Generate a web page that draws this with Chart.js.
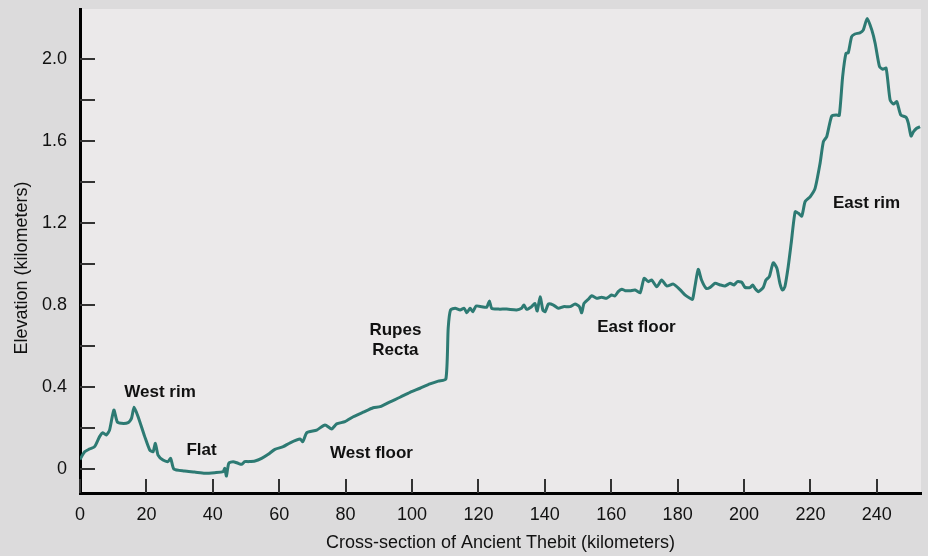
<!DOCTYPE html>
<html>
<head>
<meta charset="utf-8">
<script src="https://cdn.jsdelivr.net/npm/chart.js@4.4.1/dist/chart.umd.min.js"></script>
<style>
  html, body { margin: 0; padding: 0; background: #dcdbdc; }
  canvas { display: block; }
</style>
</head>
<body>
<canvas id="profile" width="928" height="556"></canvas>
<script>
// profile across the crater
var distanceKm = [0, 1.4, 2.9, 4.4, 5.9, 6.9, 7.9, 8.9, 10.2, 11.2, 12.4, 14.5, 15.5, 16.3, 17.5, 19.5,
  21.0, 22.0, 22.7, 23.5, 25.0, 26.5, 27.3, 28.3, 31.5, 34.5, 37.6, 40.6, 43.1, 43.6, 44.1, 44.8,
  46.1, 47.6, 48.7, 49.6, 50.7, 52.7, 54.7, 56.7, 58.7, 61.2, 63.3, 66.3, 67.1, 68.3, 71.3, 73.8,
  75.8, 77.3, 79.8, 82.3, 85.3, 88.3, 90.4, 93.4, 96.4, 99.4, 102.4, 105.4, 107.9, 110.2, 110.9,
  111.6, 113, 114.5, 115.7, 116.5, 117.5, 118.3, 119.3, 121, 122.5, 123.3, 124, 126, 128.5, 131.5,
  133, 133.7, 134.5, 136, 137, 137.7, 138.6, 139.4, 140.1, 141.1, 142.6, 144.1, 145.6, 147.6, 149.1,
  150.4, 151.1, 151.8, 153.1, 154.1, 155.6, 157.1, 158.6, 160.1, 161.1, 162.1, 163.2, 164.2, 165.7,
  167.2, 168.7, 169.9, 171.2, 172.2, 173.7, 175.2, 176.7, 178.7, 180.7, 182.2, 183.7, 184.5, 185.2,
  186.2, 187.2, 188.6, 189.8, 191.3, 192.8, 194.3, 195.8, 197, 198, 199.3, 200.3, 201.8, 202.6,
  203.3, 204.3, 205.8, 206.6, 207.6, 208.8, 209.9, 210.8, 211.6, 212.3, 213.3, 214.2, 215.4, 216.4,
  217.4, 218.4, 219.9, 221.4, 222.9, 223.9, 224.9, 226.4, 227.9, 228.7, 229.7, 230.7, 231.4, 232.4,
  233.4, 234.9, 235.9, 237.1, 238.5, 239.5, 240.8, 241.8, 242.8, 244, 245, 246, 247.2, 248.8, 249.5,
  250.3, 251, 252, 253];
var elevationKm = [0.047, 0.084, 0.098, 0.109, 0.158, 0.177, 0.166, 0.19, 0.288, 0.231, 0.223, 0.226, 0.247, 0.301, 0.255, 0.158,
  0.093, 0.084, 0.125, 0.068, 0.044, 0.036, 0.052, -0.001, -0.01, -0.015, -0.021, -0.018, -0.013, 0.003, -0.034, 0.028,
  0.036, 0.028, 0.023, 0.036, 0.036, 0.039, 0.052, 0.072, 0.096, 0.109, 0.128, 0.146, 0.133, 0.177, 0.19, 0.215,
  0.195, 0.22, 0.231, 0.255, 0.277, 0.299, 0.304, 0.328, 0.35, 0.374, 0.394, 0.415, 0.429, 0.439, 0.688,
  0.776, 0.784, 0.776, 0.784, 0.762, 0.784, 0.767, 0.795, 0.792, 0.789, 0.82, 0.784, 0.78, 0.78, 0.776,
  0.784, 0.8, 0.779, 0.792, 0.808, 0.771, 0.84, 0.776, 0.767, 0.805, 0.8, 0.784, 0.792, 0.792, 0.805,
  0.792, 0.762, 0.808, 0.828, 0.845, 0.833, 0.838, 0.833, 0.849, 0.844, 0.865, 0.877, 0.87, 0.87,
  0.873, 0.86, 0.93, 0.914, 0.922, 0.889, 0.922, 0.893, 0.902, 0.875, 0.849, 0.833, 0.828, 0.889,
  0.974, 0.922, 0.881, 0.886, 0.906, 0.898, 0.893, 0.906, 0.898, 0.914, 0.911, 0.886, 0.885, 0.898,
  0.881, 0.865, 0.886, 0.922, 0.938, 1.006, 0.979, 0.906, 0.873, 0.889, 0.987, 1.101, 1.255, 1.247,
  1.234, 1.304, 1.328, 1.369, 1.491, 1.597, 1.621, 1.722, 1.727, 1.725, 1.914, 2.028, 2.031, 2.109,
  2.122, 2.128, 2.141, 2.198, 2.141, 2.076, 1.963, 1.95, 1.955, 1.8, 1.78, 1.792, 1.727, 1.716, 1.686,
  1.624, 1.645, 1.662, 1.67];

var xTickValues = [0, 20, 40, 60, 80, 100, 120, 140, 160, 180, 200, 220, 240];
var yTickValues = [0, 0.2, 0.4, 0.6, 0.8, 1.0, 1.2, 1.4, 1.6, 1.8, 2.0];
var yTickLabels = ['0', '', '0.4', '', '0.8', '', '1.2', '', '1.6', '', '2.0'];

var noteText = ['West rim', 'Flat', 'West floor', 'Rupes', 'Recta', 'East floor', 'East rim'];
var noteX = [24.1, 36.6, 87.8, 95, 95, 167.6, 236.9];
var noteY = [0.376, 0.093, 0.075, 0.678, 0.58, 0.692, 1.295];

var FONT = '"Liberation Sans", Arial, Helvetica, sans-serif';

var points = distanceKm.map(function(d, i) { return { x: d, y: elevationKm[i] }; });

// paints the plot panel, inward tick marks, notes and the y title
var decor = {
  id: 'decor',
  beforeDraw: function(chart) {
    var a = chart.chartArea, ctx = chart.ctx;
    ctx.save();
    ctx.fillStyle = '#ebe9ea';
    ctx.fillRect(a.left, a.top, a.right - a.left, a.bottom - a.top);
    ctx.restore();
  },
  afterDatasetsDraw: function(chart) {
    var a = chart.chartArea, ctx = chart.ctx;
    var xs = chart.scales.x, ys = chart.scales.y;
    ctx.save();
    ctx.strokeStyle = '#333';
    ctx.lineWidth = 2;
    yTickValues.forEach(function(v) {
      var py = Math.round(ys.getPixelForValue(v));
      ctx.beginPath(); ctx.moveTo(a.left, py); ctx.lineTo(a.left + 15, py); ctx.stroke();
    });
    xTickValues.forEach(function(v) {
      var px = Math.round(xs.getPixelForValue(v));
      ctx.beginPath(); ctx.moveTo(px, a.bottom); ctx.lineTo(px, a.bottom - 14); ctx.stroke();
    });

    ctx.fillStyle = '#111';
    ctx.font = 'bold 17px ' + FONT;
    ctx.textAlign = 'center';
    ctx.textBaseline = 'middle';
    noteText.forEach(function(t, i) {
      ctx.fillText(t, xs.getPixelForValue(noteX[i]), ys.getPixelForValue(noteY[i]));
    });

    ctx.font = '18px ' + FONT;
    ctx.fillStyle = '#111';
    ctx.translate(22, 268);
    ctx.rotate(-Math.PI / 2);
    ctx.fillText('Elevation (kilometers)', 0, 0);
    ctx.restore();
  }
};

new Chart(document.getElementById('profile').getContext('2d'), {
  type: 'line',
  data: {
    datasets: [{
      data: points,
      borderColor: '#2d7a73',
      borderWidth: 3,
      pointRadius: 0,
      tension: 0.2,
      fill: false
    }]
  },
  options: {
    responsive: false,
    animation: false,
    devicePixelRatio: 1,
    layout: { padding: { top: 9, right: 7, left: 0, bottom: 0 } },
    plugins: { legend: { display: false }, tooltip: { enabled: false } },
    scales: {
      x: {
        type: 'linear',
        min: 0,
        max: 253.3,
        afterFit: function(s) { s.height = 63; s.paddingLeft = 0; s.paddingRight = 0; },
        afterBuildTicks: function(s) { s.ticks = xTickValues.map(function(v) { return { value: v }; }); },
        grid: { display: false, drawTicks: false },
        border: { color: '#000', width: 3 },
        ticks: { padding: 11, color: '#111', font: { family: FONT, size: 18 }, maxRotation: 0 },
        title: {
          display: true,
          text: 'Cross-section of Ancient Thebit (kilometers)',
          color: '#111',
          font: { family: FONT, size: 18 },
          padding: { top: 0, bottom: 2 }
        }
      },
      y: {
        type: 'linear',
        min: -0.117,
        max: 2.244,
        afterFit: function(s) { s.width = 80; s.paddingTop = 0; s.paddingBottom = 0; },
        afterBuildTicks: function(s) { s.ticks = yTickValues.map(function(v) { return { value: v }; }); },
        grid: { display: false, drawTicks: false },
        border: { color: '#000', width: 3 },
        ticks: {
          padding: 13,
          color: '#111',
          font: { family: FONT, size: 18 },
          callback: function(v, i) { return yTickLabels[i]; }
        }
      }
    }
  },
  plugins: [decor]
});
</script>
</body>
</html>
